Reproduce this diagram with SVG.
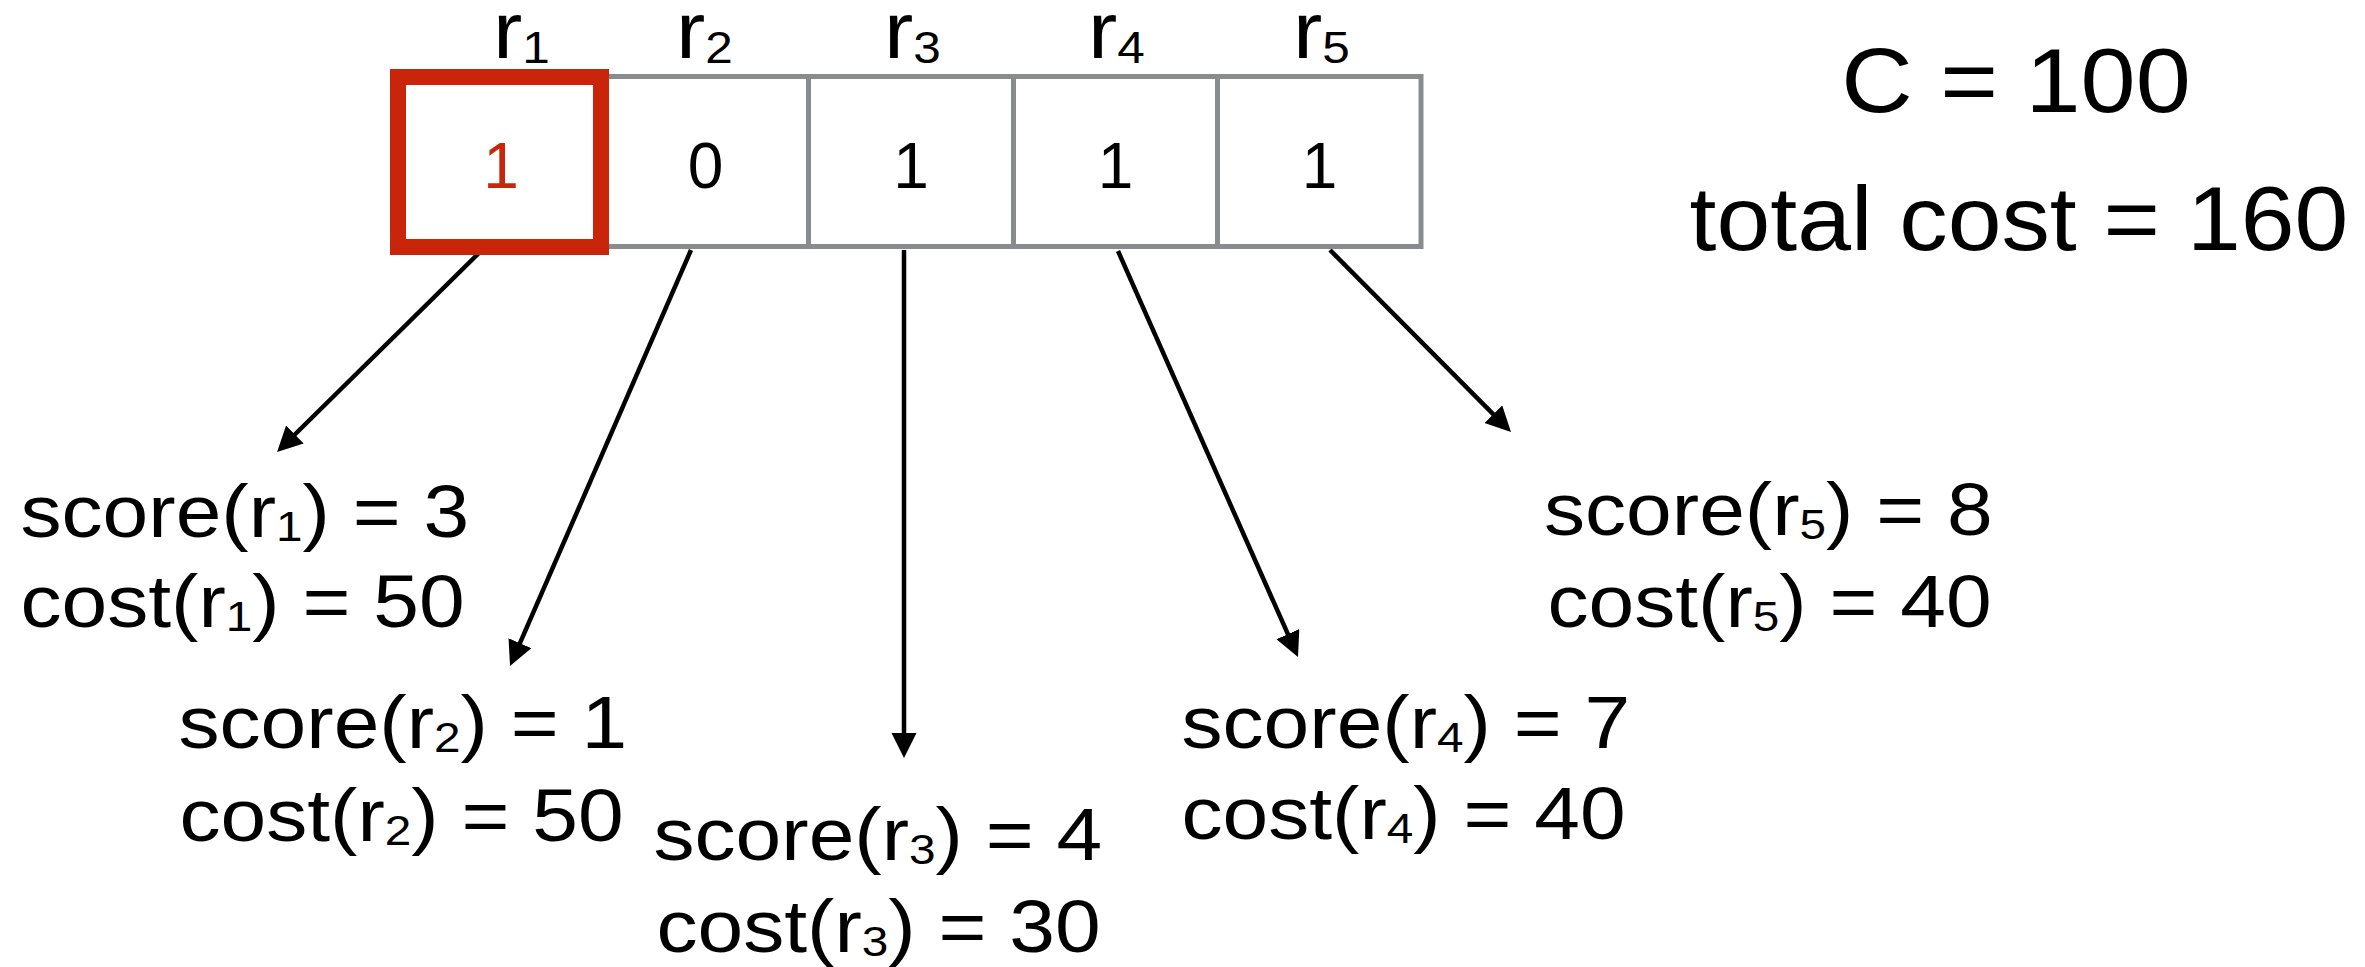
<svg xmlns="http://www.w3.org/2000/svg" width="2365" height="967" viewBox="0 0 2365 967">
<style>
  text { font-family: "Liberation Sans", Arial, Helvetica, sans-serif; fill: #000; }
  .lbl { font-size: 74px; }
  .hdr { font-size: 80px; }
  .val { font-size: 64px; text-anchor: middle; }
  .big { font-size: 90px; text-anchor: middle; }
  .sub { font-size: 43px; }
  .hsub { font-size: 45px; }
  .cell { fill: #fff; stroke: #898c8f; stroke-width: 5; }
  .sel { fill: none; stroke: #c8250a; stroke-width: 16; }
  .arrow { fill: none; stroke: #000; stroke-width: 4.5; marker-end: url(#ah); }
</style>
<defs>
  <marker id="ah" markerUnits="userSpaceOnUse" markerWidth="26" markerHeight="26" refX="5" refY="12.5" orient="auto" viewBox="0 0 26 26">
    <path d="M0,0 L25,12.5 L0,25 Z" fill="#000"/>
  </marker>
</defs>
<rect width="2365" height="967" fill="#fff"/>

<g id="connectors">
  <path class="arrow" d="M479,253 L291.3,438"/>
  <path class="arrow" d="M691,250 L518,647.7"/>
  <path class="arrow" d="M904,250 L904,738"/>
  <path class="arrow" d="M1118,251 L1289.9,638.7"/>
  <path class="arrow" d="M1330,250 L1496.9,417.8"/>
</g>

<g id="cell-r2">
  <rect class="cell" x="601" y="76.5" width="207.5" height="170"/>
  <text class="val" x="705.5" y="188">0</text>
  <text class="hdr" transform="translate(676,58) scale(1.1,1)">r<tspan class="hsub" dy="5">2</tspan></text>
</g>
<g id="cell-r3">
  <rect class="cell" x="808.5" y="76.5" width="205" height="170"/>
  <text class="val" x="911" y="188">1</text>
  <text class="hdr" transform="translate(884,58) scale(1.1,1)">r<tspan class="hsub" dy="5">3</tspan></text>
</g>
<g id="cell-r4">
  <rect class="cell" x="1013.5" y="76.5" width="204" height="170"/>
  <text class="val" x="1115.5" y="188">1</text>
  <text class="hdr" transform="translate(1088,58) scale(1.1,1)">r<tspan class="hsub" dy="5">4</tspan></text>
</g>
<g id="cell-r5">
  <rect class="cell" x="1217.5" y="76.5" width="203.5" height="170"/>
  <text class="val" x="1319.5" y="188">1</text>
  <text class="hdr" transform="translate(1293,58) scale(1.1,1)">r<tspan class="hsub" dy="5">5</tspan></text>
</g>
<g id="cell-r1">
  <rect class="cell" x="398" y="77" width="203" height="170" style="stroke:none"/>
  <rect class="sel" x="398" y="77" width="203" height="170"/>
  <text class="val" x="501" y="188" style="fill:#c8250a">1</text>
  <text class="hdr" transform="translate(493,58) scale(1.1,1)">r<tspan class="hsub" dy="5">1</tspan></text>
</g>

<g id="label-r1">
  <text class="lbl" transform="translate(20.5,537) scale(1.11,1)">score(r<tspan class="sub" dy="4">1</tspan><tspan dy="-4">) = 3</tspan></text>
  <text class="lbl" transform="translate(20.5,627) scale(1.11,1)">cost(r<tspan class="sub" dy="4">1</tspan><tspan dy="-4">) = 50</tspan></text>
</g>
<g id="label-r2">
  <text class="lbl" transform="translate(178.5,748) scale(1.11,1)">score(r<tspan class="sub" dy="4">2</tspan><tspan dy="-4">) = 1</tspan></text>
  <text class="lbl" transform="translate(179.5,841) scale(1.11,1)">cost(r<tspan class="sub" dy="4">2</tspan><tspan dy="-4">) = 50</tspan></text>
</g>
<g id="label-r3">
  <text class="lbl" transform="translate(653.5,860) scale(1.11,1)">score(r<tspan class="sub" dy="4">3</tspan><tspan dy="-4">) = 4</tspan></text>
  <text class="lbl" transform="translate(656.5,952) scale(1.11,1)">cost(r<tspan class="sub" dy="4">3</tspan><tspan dy="-4">) = 30</tspan></text>
</g>
<g id="label-r4">
  <text class="lbl" transform="translate(1181.5,748) scale(1.11,1)">score(r<tspan class="sub" dy="4">4</tspan><tspan dy="-4">) = 7</tspan></text>
  <text class="lbl" transform="translate(1181.5,839) scale(1.11,1)">cost(r<tspan class="sub" dy="4">4</tspan><tspan dy="-4">) = 40</tspan></text>
</g>
<g id="label-r5">
  <text class="lbl" transform="translate(1544,535) scale(1.11,1)">score(r<tspan class="sub" dy="4">5</tspan><tspan dy="-4">) = 8</tspan></text>
  <text class="lbl" transform="translate(1547.5,627) scale(1.11,1)">cost(r<tspan class="sub" dy="4">5</tspan><tspan dy="-4">) = 40</tspan></text>
</g>

<g id="budget">
  <text class="big" transform="translate(2016,112) scale(1.1,1)">C = 100</text>
  <text class="big" transform="translate(2019,250) scale(1.075,1)">total cost = 160</text>
</g>
</svg>
